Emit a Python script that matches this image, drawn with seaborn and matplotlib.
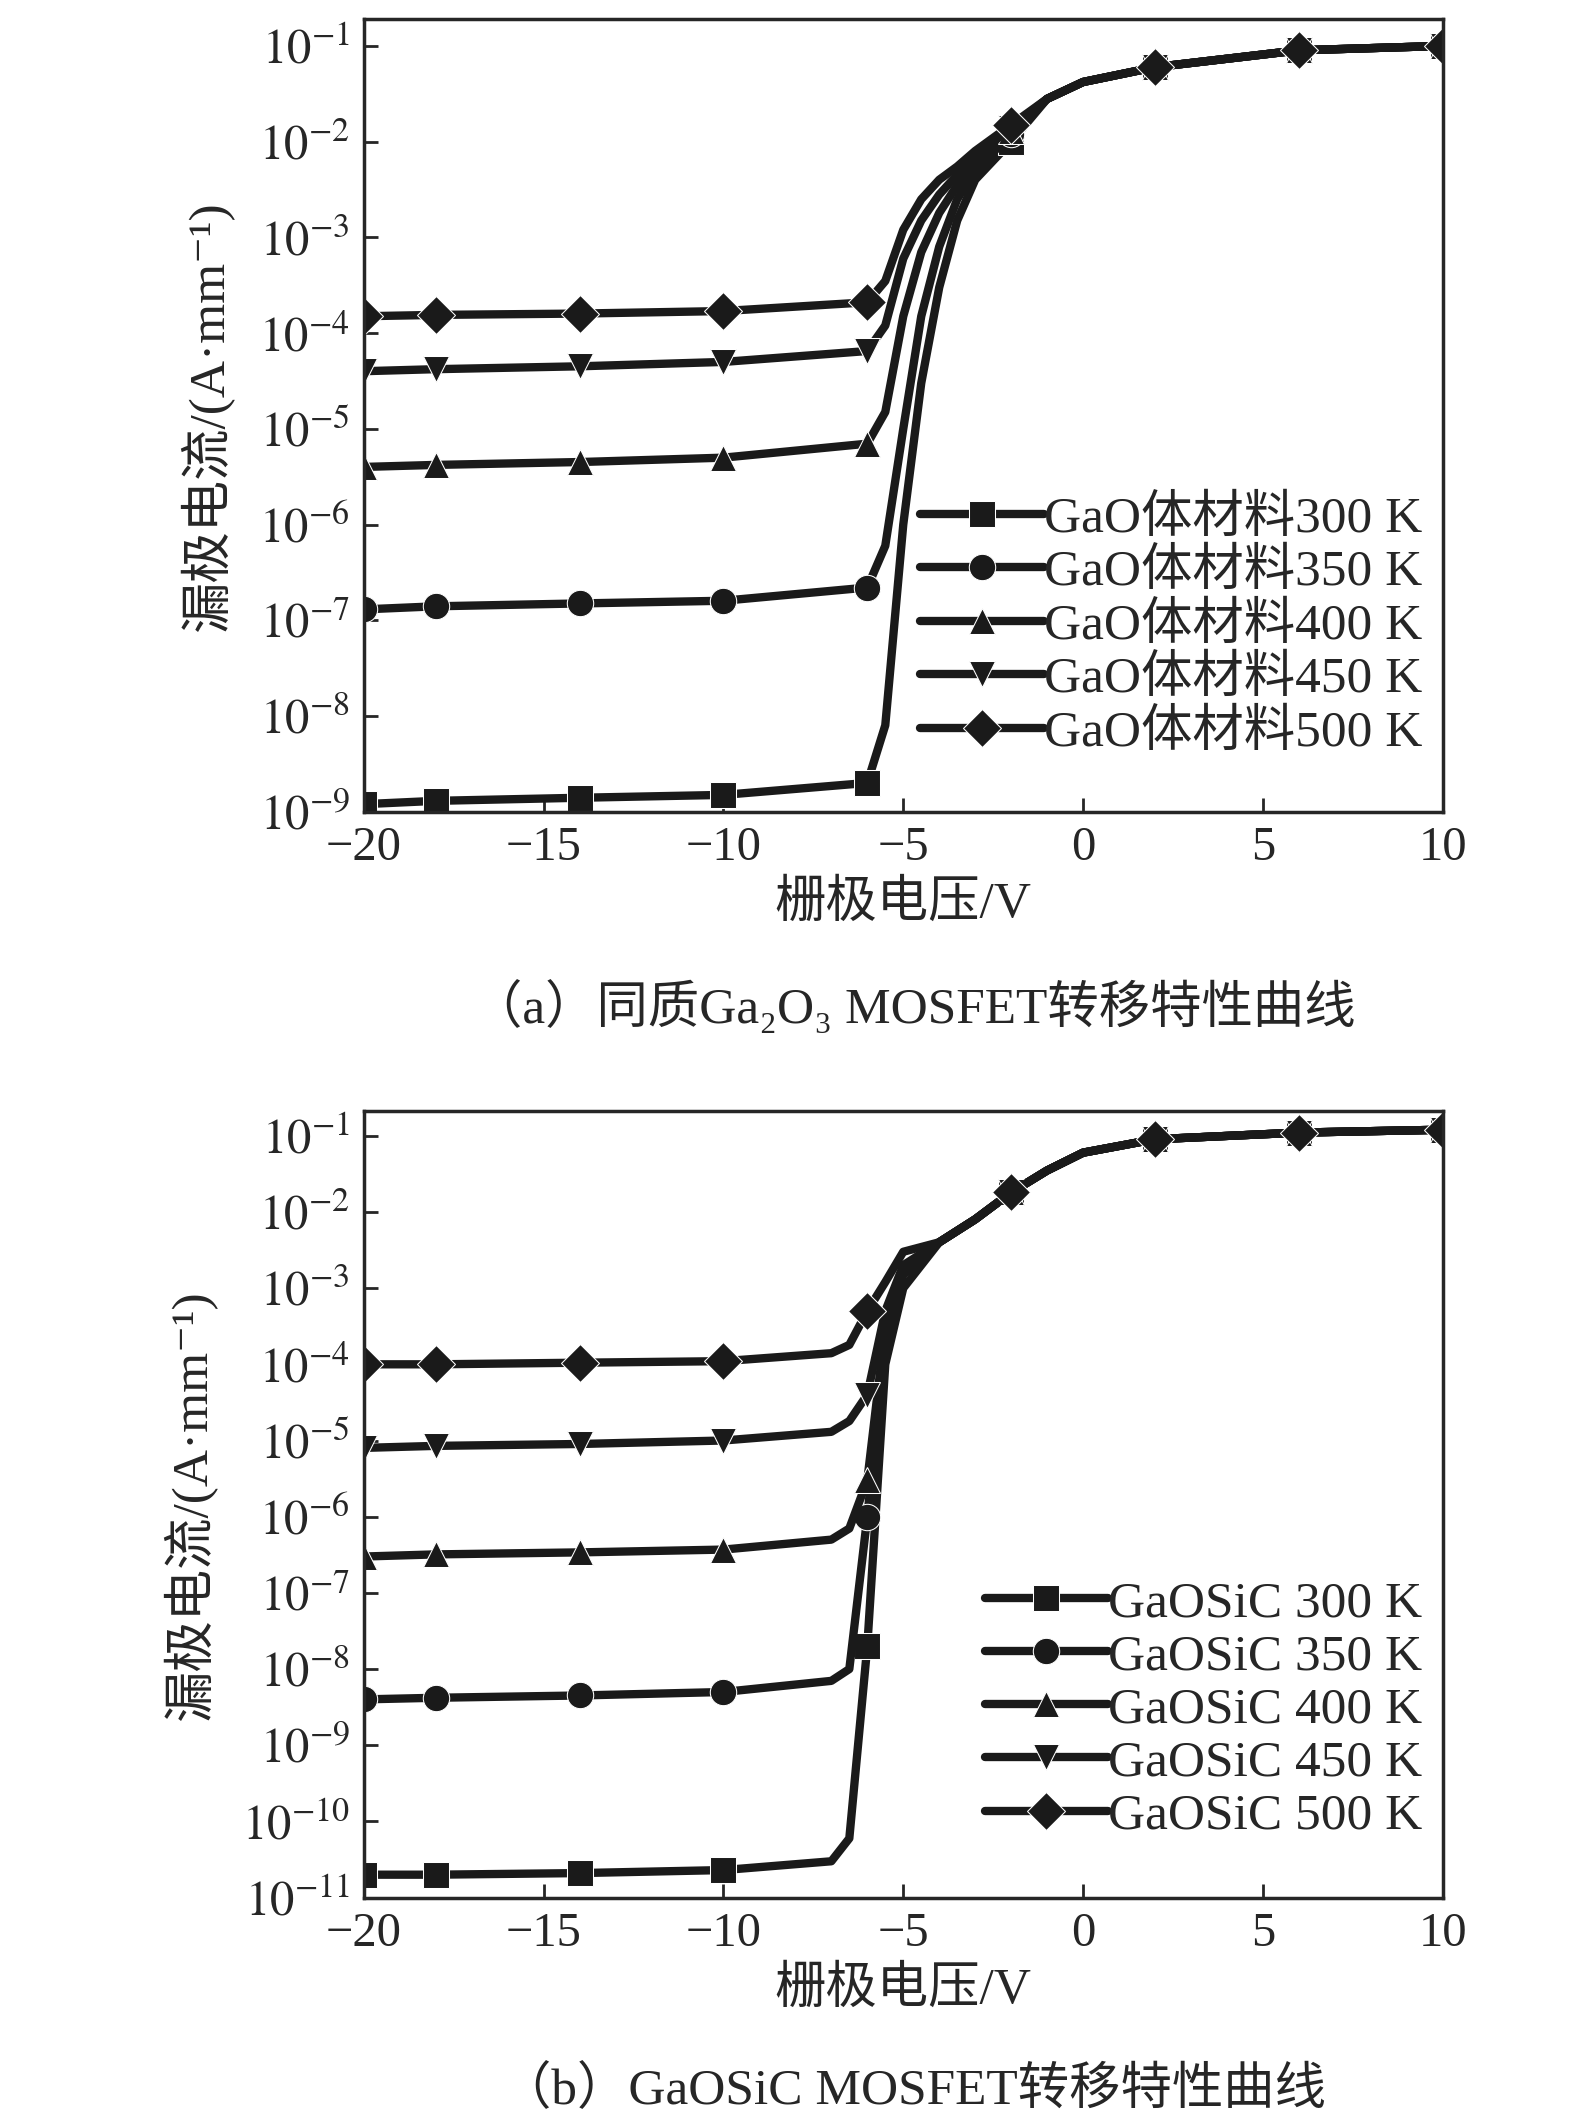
import numpy as np
import matplotlib
matplotlib.use("Agg")
import matplotlib.pyplot as plt
import seaborn as sns

# ---- data ----
x_a = [-20, -18, -14, -10, -6, -5.5, -5, -4.5, -4, -3.5, -3, -2, -1, 0, 2, 6, 10]
tail_a = [2.8e-2, 4.2e-2, 6e-2, 9e-2, 1e-1]
a_300 = [1.2e-9, 1.3e-9, 1.4e-9, 1.5e-9, 2e-9, 8e-9, 1e-6, 3e-5, 3e-4, 1.5e-3, 4e-3, 1.0e-2] + tail_a
a_350 = [1.3e-7, 1.4e-7, 1.5e-7, 1.6e-7, 2.2e-7, 6e-7, 1e-5, 1.5e-4, 8e-4, 2.5e-3, 5e-3, 1.2e-2] + tail_a
a_400 = [4e-6, 4.2e-6, 4.5e-6, 5e-6, 7e-6, 1.5e-5, 1.5e-4, 7e-4, 1.8e-3, 3.5e-3, 6e-3, 1.3e-2] + tail_a
a_450 = [4e-5, 4.2e-5, 4.5e-5, 5e-5, 6.5e-5, 1.2e-4, 6e-4, 1.5e-3, 2.8e-3, 4.5e-3, 7e-3, 1.4e-2] + tail_a
a_500 = [1.5e-4, 1.55e-4, 1.6e-4, 1.7e-4, 2.1e-4, 3.5e-4, 1.2e-3, 2.5e-3, 4e-3, 5.5e-3, 8e-3, 1.5e-2] + tail_a

x_b = [-20, -18, -14, -10, -7, -6.5, -6, -5.5, -5, -4, -3, -2, -1, 0, 2, 6, 10]
tail_b = [4e-3, 8e-3, 1.8e-2, 3.5e-2, 6e-2, 9e-2, 1.1e-1, 1.2e-1]
b_300 = [2e-11, 2e-11, 2.1e-11, 2.3e-11, 3e-11, 6e-11, 2e-8, 1e-4, 1e-3] + tail_b
b_350 = [4e-9, 4.2e-9, 4.5e-9, 5e-9, 7e-9, 1e-8, 1e-6, 2e-4, 1.5e-3] + tail_b
b_400 = [3e-7, 3.2e-7, 3.4e-7, 3.7e-7, 5e-7, 7e-7, 3e-6, 3e-4, 1.8e-3] + tail_b
b_450 = [8e-6, 8.5e-6, 9e-6, 1e-5, 1.3e-5, 1.8e-5, 4e-5, 5e-4, 2e-3] + tail_b
b_500 = [1e-4, 1e-4, 1.05e-4, 1.1e-4, 1.4e-4, 1.8e-4, 5e-4, 1.2e-3, 3e-3] + tail_b

temps = ["300 K", "350 K", "400 K", "450 K", "500 K"]
markers = ["s", "o", "^", "v", "D"]

sns.set_theme(style="ticks")
plt.rcParams['font.family'] = ['Liberation Serif', 'Noto Sans CJK SC', 'DejaVu Serif']
plt.rcParams['mathtext.fontset'] = 'stix'
plt.rcParams['axes.unicode_minus'] = True
FS = 35

fig = plt.figure(figsize=(15.75, 21.25), dpi=100)
ax_a = fig.add_axes([0.231, 0.618, 0.685, 0.373])
ax_b = fig.add_axes([0.231, 0.107, 0.685, 0.370])


def draw(ax, x, series, prefix, ylim, decades, anchor):
    x = np.array(x)
    mark_idx = [i for i, v in enumerate(x) if v in (-20, -18, -14, -10, -6, -2, 2, 6, 10)]
    for ys, t, m in zip(series, temps, markers):
        sns.lineplot(x=x, y=ys, ax=ax, color="#1a1a1a", lw=6, marker=m,
                     markersize=19, markevery=mark_idx, label=prefix + t,
                     estimator=None, sort=False)
    ax.set_yscale("log")
    ax.set_xlim(-20, 10)
    ax.set_ylim(*ylim)
    ax.set_yticks([10.0 ** d for d in decades])
    ax.set_yticklabels([r"$10^{%d}$" % d for d in decades])
    ax.minorticks_off()
    ax.set_xticks([-20, -15, -10, -5, 0, 5, 10])
    ax.set_xticklabels(["\u221220", "\u221215", "\u221210", "\u22125", "0", "5", "10"])
    ax.tick_params(direction="in", length=10, width=2, labelsize=FS, pad=10)
    for s in ax.spines.values():
        s.set_linewidth(2.5)
    ax.set_xlabel("栅极电压/V", fontsize=FS + 2, labelpad=8)
    ax.set_ylabel("漏极电流/(A·mm\u207b\u00b9)", fontsize=FS + 2, labelpad=18)
    ax.legend(loc="upper right", bbox_to_anchor=anchor, frameon=False,
              fontsize=FS + 2, handlelength=2.4, handletextpad=0.0,
              labelspacing=0.12, borderaxespad=0.0)


draw(ax_a, x_a, [a_300, a_350, a_400, a_450, a_500], "GaO体材料",
     (10 ** -9.0, 10 ** -0.72), range(-9, 0), (1.0, 0.425))
draw(ax_b, x_b, [b_300, b_350, b_400, b_450, b_500], "GaOSiC ",
     (10 ** -10.9, 10 ** -0.68), range(-11, 0), (1.0, 0.43))

fig.text(0.58, 0.526, "（a）同质Ga\u2082O\u2083 MOSFET转移特性曲线", fontsize=FS + 2, ha="center", va="center")
fig.text(0.58, 0.016, "（b）GaOSiC MOSFET转移特性曲线", fontsize=FS + 2, ha="center", va="center")

fig.savefig("out.png", dpi=100)
